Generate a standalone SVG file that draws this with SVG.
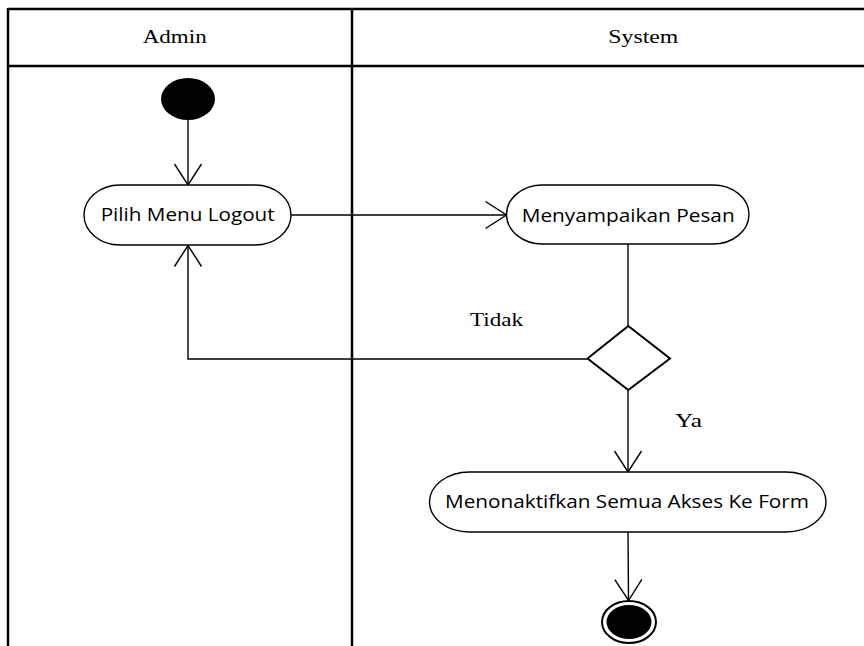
<svg xmlns="http://www.w3.org/2000/svg" width="864" height="646" viewBox="0 0 864 646">
  <style>
    .frame { stroke: #000; stroke-width: 2.5; fill: none; }
    .conn { stroke: #000; stroke-width: 1.4; fill: none; }
    .node { fill: #fff; stroke: #000; stroke-width: 1.4; }
    .hdr { font-family: "Liberation Serif", "Times New Roman", serif; font-size: 18px; fill: #000; }
    .lbl { font-family: "Liberation Serif", "Times New Roman", serif; font-size: 19px; fill: #000; }
    .act { font-family: "Open Sans", "Liberation Sans", sans-serif; font-size: 17.5px; fill: #000; }
  </style>
  <defs>
    <marker id="open" viewBox="-23 -15 25 30" refX="0" refY="0" markerWidth="25" markerHeight="30" markerUnits="userSpaceOnUse" orient="auto" overflow="visible">
      <path d="M-21,-13.5 L0,0 L-21,13.5" fill="none" stroke="#000" stroke-width="1.4"/>
    </marker>
  </defs>
  <rect x="0" y="0" width="864" height="646" fill="#fff"/>
  <g id="swimlanes">
    <line class="frame" x1="8" y1="9" x2="864" y2="9"/>
    <line class="frame" x1="8" y1="66" x2="864" y2="66"/>
    <line class="frame" x1="8" y1="8" x2="8" y2="646"/>
    <line class="frame" x1="352" y1="9" x2="352" y2="646"/>
    <text class="hdr" x="142.7" y="43.3" textLength="64" lengthAdjust="spacingAndGlyphs">Admin</text>
    <text class="hdr" x="608.3" y="43.3" textLength="70" lengthAdjust="spacingAndGlyphs">System</text>
  </g>
  <g id="connectors">
    <line class="conn" x1="188" y1="120" x2="188" y2="185" marker-end="url(#open)"/>
    <line class="conn" x1="291" y1="215" x2="506.5" y2="215" marker-end="url(#open)"/>
    <line class="conn" x1="628" y1="244" x2="628" y2="326"/>
    <polyline class="conn" points="587.5,359 188,359 188,245.5" stroke-width="1.8" marker-end="url(#open)"/>
    <line class="conn" x1="628" y1="390" x2="628" y2="472" marker-end="url(#open)"/>
    <line class="conn" x1="628" y1="532" x2="628.5" y2="600.5" marker-end="url(#open)"/>
    <text class="lbl" x="470" y="326" textLength="53" lengthAdjust="spacingAndGlyphs">Tidak</text>
    <text class="lbl" x="675" y="427" textLength="27" lengthAdjust="spacingAndGlyphs">Ya</text>
  </g>
  <g id="start">
    <ellipse cx="188" cy="99" rx="27" ry="21" fill="#000"/>
  </g>
  <g id="pilih-menu-logout">
    <rect class="node" x="84" y="185" width="207" height="60" rx="36" ry="30"/>
    <text class="act" x="100.7" y="221" textLength="174" lengthAdjust="spacingAndGlyphs">Pilih Menu Logout</text>
  </g>
  <g id="menyampaikan-pesan">
    <rect class="node" x="506.5" y="185" width="242.5" height="59" rx="36" ry="29.5"/>
    <text class="act" x="521.7" y="221.7" textLength="213" lengthAdjust="spacingAndGlyphs">Menyampaikan Pesan</text>
  </g>
  <g id="decision">
    <polygon points="628.3,326 670,358.5 628.3,390 587.5,358.5" fill="#fff" stroke="#000" stroke-width="2"/>
  </g>
  <g id="menonaktifkan">
    <rect class="node" x="429.5" y="472" width="396.5" height="60" rx="40" ry="30"/>
    <text class="act" x="445" y="508" textLength="364" lengthAdjust="spacingAndGlyphs">Menonaktifkan Semua Akses Ke Form</text>
  </g>
  <g id="end">
    <ellipse cx="629" cy="622" rx="27" ry="21" fill="#fff" stroke="#000" stroke-width="2"/>
    <ellipse cx="629" cy="622" rx="22.5" ry="17" fill="#000"/>
  </g>
</svg>
